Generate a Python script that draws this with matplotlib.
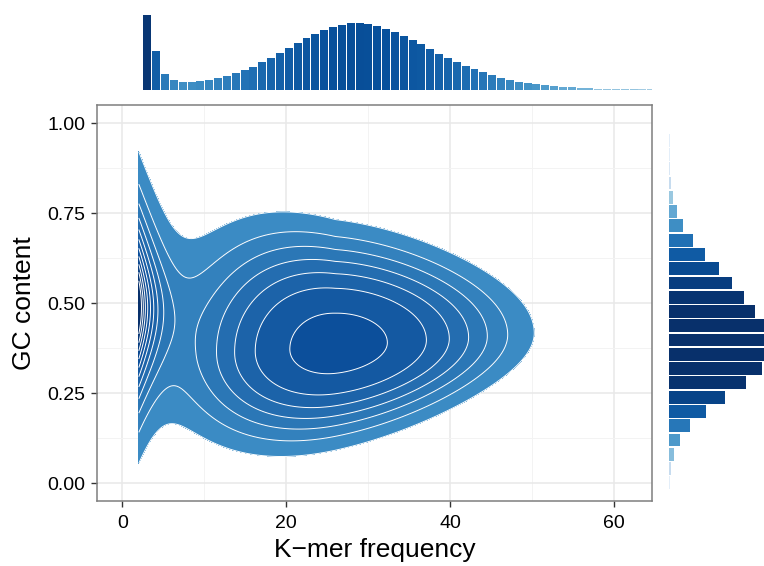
import numpy as np
import matplotlib.pyplot as plt
from matplotlib.colors import LinearSegmentedColormap, LogNorm
from matplotlib.ticker import FixedLocator, FormatStrFormatter

plt.rcParams['font.family'] = ['Liberation Sans', 'DejaVu Sans']

# top marginal: counts per k-mer frequency bin (first bar runs off the panel)
kmer_bins = list(range(2, 60))
kmer_counts = [150, 39, 16, 10, 8, 8, 9, 10, 12, 14, 17, 20, 23, 28, 32, 37,
               42, 47, 52, 56, 60, 63, 65, 67, 67, 66, 64, 61, 58, 54, 50, 46,
               41, 36, 32, 28, 24, 21, 18, 15, 12, 10, 8, 7, 6, 5, 4, 3, 3,
               2, 2, 1, 1, 1, 1, 1, 0.7, 0.7]

# right marginal: counts per GC-content bin (lower edges, width 0.04)
gc_bins = [i * 0.04 for i in range(25)]
gc_counts = [1, 2, 5, 11, 21, 37, 56, 77, 93, 103, 106, 101, 86, 75, 63, 50,
             36, 24, 14, 8, 4, 2, 1.3, 1, 1]

# shape of the 2d density
blob_center = (26.0, 0.38)
blob_scale_x = (17.0, 19.3)    # left, right of centre
blob_scale_y = (0.23, 0.28)    # below, above centre
blob_funnel = (0.012, 0.022)   # y spread change per unit of frequency; upper-left wider
blob_tilt = 0.0015             # centre line rises slowly to the right
blob_peak = 7.25
spike_edge = 2.0               # lowest k-mer frequency in the data
spike_center_y = 0.49
spike_decay = 2.2              # e-folding length along frequency
spike_core_y = 0.15            # half-width of the flat middle
spike_scale_y = 0.1215
spike_peak = 12.3
levels = list(range(1, 12))

# density surface on the data range
xg = np.linspace(2, 62, 400)
yg = np.linspace(0, 1, 300)
X, Y = np.meshgrid(xg, yg)
dx = X - blob_center[0]
dy = Y - (blob_center[1] + blob_tilt * dx)
sx = np.where(dx < 0, blob_scale_x[0], blob_scale_x[1])
funnel = np.where((dx < 0) & (dy > 0), blob_funnel[1], blob_funnel[0])
sy = np.where(dy < 0, blob_scale_y[0], blob_scale_y[1]) * (1 - funnel * dx)
r = np.sqrt((dx / sx) ** 2 + (dy / sy) ** 2)
Z = blob_peak * np.exp(-r ** 3)
sdy = np.sqrt((Y - spike_center_y) ** 2 + spike_core_y ** 2) - spike_core_y
Z += spike_peak * np.exp(-(X - spike_edge) / spike_decay) * np.exp(-sdy / spike_scale_y)

W, H = 764, 566
fig = plt.figure(figsize=(W / 100, H / 100), dpi=100)


def px_axes(x0, y0, x1, y1):
    return fig.add_axes([x0 / W, 1 - y1 / H, (x1 - x0) / W, (y1 - y0) / H])


ax = px_axes(97, 105, 652, 501)
top = px_axes(97, 15, 652, 90)
side = px_axes(669, 105, 764, 501)

# main panel
fill_cmap = LinearSegmentedColormap.from_list(
    'lv', [(0, '#3b8bc4'), (6 / 10, '#0c4f9b'), (1, '#08306b')])
fill_colors = [fill_cmap(i / (len(levels) - 1)) for i in range(len(levels))]
ax.contourf(X, Y, Z, levels=levels + [Z.max() + 1], colors=fill_colors, zorder=2)
ax.contour(X, Y, Z, levels=levels, colors='white', linewidths=0.7, zorder=3)

ax.set_xlim(-3.1, 64.6)
ax.set_ylim(-0.05, 1.05)
ax.xaxis.set_major_locator(FixedLocator([0, 20, 40, 60]))
ax.xaxis.set_minor_locator(FixedLocator([10, 30, 50]))
ax.yaxis.set_major_locator(FixedLocator([0, 0.25, 0.5, 0.75, 1.0]))
ax.yaxis.set_minor_locator(FixedLocator([0.125, 0.375, 0.625, 0.875]))
ax.yaxis.set_major_formatter(FormatStrFormatter('%.2f'))
ax.set_axisbelow(True)
ax.grid(which='major', color='#e8e8e8', linewidth=1.1)
ax.grid(which='minor', color='#f3f3f3', linewidth=0.7)
ax.tick_params(which='major', direction='out', length=4.3, width=1.0,
               color='#333333', labelsize=14, pad=4)
ax.tick_params(axis='x', pad=6)
ax.tick_params(which='minor', length=0)
for s in ax.spines.values():
    s.set_color('#7f7f7f')
    s.set_linewidth(1.1)
ax.set_xlabel('K\u2212mer frequency', fontsize=19, labelpad=4)
ax.set_ylabel('GC content', fontsize=19, labelpad=8)

# top marginal histogram
top_norm = LogNorm(0.031, 185)
top_colors = [plt.cm.Blues(min(top_norm(c), 1.0)) for c in kmer_counts]
top.bar(kmer_bins, kmer_counts, width=0.9, color=top_colors)
top.set_xlim(-3.70, 59.08)
top.set_ylim(0, 75)
top.axis('off')

# right marginal histogram
side_norm = LogNorm(0.61, 81.5)
side_colors = [plt.cm.Blues(min(side_norm(c), 1.0)) for c in gc_counts]
side.barh([b + 0.02 for b in gc_bins], gc_counts, height=0.036, color=side_colors)
side.set_xlim(0, 95)
side.set_ylim(-0.0308, 1.0784)
side.axis('off')

fig.savefig('out.png', dpi=100)
